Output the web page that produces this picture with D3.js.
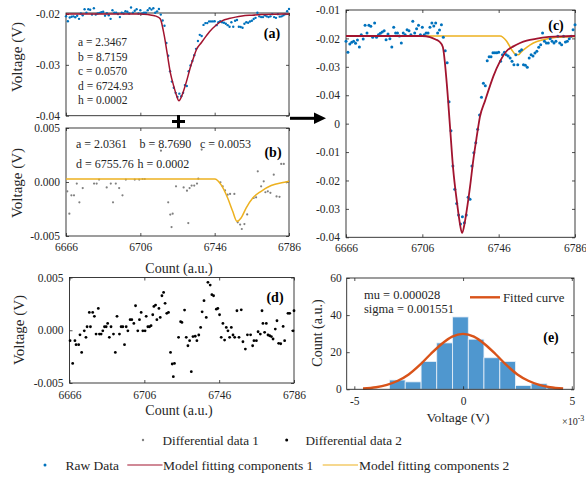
<!DOCTYPE html>
<html>
<head>
<meta charset="utf-8">
<script src="https://cdn.jsdelivr.net/npm/d3@7"></script>
<style>
  body { margin: 0; background: #fff; }
  svg { display: block; }
  text { font-family: "Liberation Serif", "Times New Roman", serif; fill: #262626; }
  .tick text { font-size: 11.5px; }
  .tick line { stroke: #262626; stroke-width: 0.8; }
  .lbl { font-weight: bold; font-size: 14px; fill: #000; }
</style>
</head>
<body>
<svg id="fig" width="586" height="487"></svg>
<script>
// ---- data ----
const countStart = 6666;   // raw data: one sample per count, 6666..6786
const rawV = [
  -0.02046, -0.02141, -0.02069, -0.02055, -0.02046, -0.02063, -0.02035, -0.02095, -0.01989, -0.02026,
  -0.01907, -0.01974, -0.01907, -0.01916, -0.02011, -0.01887, -0.02011, -0.01989, -0.01977, -0.01965,
  -0.01954, -0.02032, -0.01983, -0.02023, -0.02095, -0.01925, -0.01974, -0.01974, -0.02000, -0.02061,
  -0.01974, -0.01989, -0.01945, -0.01954, -0.01989, -0.01873, -0.01974, -0.01937, -0.01907, -0.01989,
  -0.01925, -0.01989, -0.01974, -0.01974, -0.01925, -0.01887, -0.01913, -0.01887, -0.01974, -0.01948,
  -0.01902, -0.02011, -0.02127, -0.02231, -0.02569, -0.02821, -0.03127, -0.03329, -0.03451, -0.03551,
  -0.03629, -0.03566, -0.03618, -0.03551, -0.03398, -0.03415, -0.03127, -0.03011, -0.02925, -0.02809,
  -0.02685, -0.02531, -0.02410, -0.02431, -0.02214, -0.02179, -0.02179, -0.02145, -0.02145, -0.02145,
  -0.02141, -0.02219, -0.02162, -0.02141, -0.02162, -0.02173, -0.02191, -0.02219, -0.02249, -0.02162,
  -0.02249, -0.02133, -0.02119, -0.02249, -0.02254, -0.02271, -0.02191, -0.02162, -0.02173, -0.02147,
  -0.02133, -0.02098, -0.02075, -0.01974, -0.02046, -0.02061, -0.02061, -0.02023, -0.02046, -0.02061,
  -0.02046, -0.02003, -0.02061, -0.02075, -0.02003, -0.02052, -0.02046, -0.02023, -0.02003, -0.01945,
  -0.01902
];

// model fitting component 1 (red), read as [count, V]
const fit1 = [
  [6666, -0.0200], [6706, -0.0200], [6710, -0.02009], [6713, -0.0203], [6715, -0.0205],
  [6716.7, -0.02093], [6718.8, -0.0241], [6720.5, -0.02786], [6722.2, -0.03161], [6724, -0.03421],
  [6725.4, -0.03595], [6726.8, -0.03707], [6728.2, -0.0362], [6729.3, -0.03508], [6731, -0.03306],
  [6732.7, -0.03075], [6734.5, -0.02873], [6736.2, -0.02699], [6738.9, -0.0256], [6741.5, -0.0243],
  [6743.2, -0.0235], [6746.7, -0.0222], [6750.2, -0.0213], [6753.7, -0.0209], [6757.2, -0.02061],
  [6760.7, -0.0204], [6766, -0.02023], [6771.2, -0.0201], [6778.2, -0.02003], [6786, -0.0200]
];

// model fitting component 2 in panel (b), [count, V]
const fit2 = [
  [6666, 0.00028], [6746, 0.00028], [6749.4, -0.00024], [6753, -0.00148], [6755.7, -0.00271],
  [6758, -0.00364], [6760.2, -0.00333], [6762.9, -0.00241], [6766.5, -0.00148], [6771, -0.00086],
  [6776.4, -0.00033], [6783.6, -0.00003], [6786, 0.00006]
];

// model fitting component 2 as drawn in panel (c), [count, V]
const fit2c = [
  [6666, -0.0200], [6746.7, -0.0200], [6750.2, -0.02046], [6752.8, -0.02119], [6754.6, -0.02156],
  [6756.3, -0.02162], [6758.1, -0.02133], [6760.7, -0.02098], [6764.2, -0.02061], [6769.4, -0.02032],
  [6776.4, -0.02011], [6786, -0.02003]
];

// differential data 1 (grey, panel b)
const diff1Count = [
  6666.7, 6667.8, 6668.9, 6670.3, 6671.8, 6673.2, 6675.0, 6681.1, 6682.5, 6683.8,
  6687.9, 6690.1, 6691.3, 6692.8, 6694.6, 6696.4, 6698.2, 6703.0, 6705.4, 6707.2,
  6708.4, 6717.1, 6721.0, 6722.1, 6723.4, 6722.8, 6725.2, 6729.3, 6731.1, 6731.8,
  6732.5, 6733.6, 6735.0, 6736.5, 6737.2, 6739.0, 6749.1, 6750.3, 6751.6, 6753.0,
  6754.3, 6756.6, 6758.4, 6759.7, 6760.6, 6762.0, 6763.5, 6767.0, 6768.3, 6769.2,
  6771.0, 6772.4, 6773.3, 6774.6, 6776.0, 6777.8, 6779.3, 6780.9, 6781.8, 6783.2,
  6784.7, 6785.8
];
const diff1V = [
  -0.00086, -0.00293, -0.00123, -0.00123, -0.00015, -0.00188, -0.00056, -0.00015, -0.00015, 0.00022,
  -0.00050, -0.00015, -0.00188, -0.00015, -0.00056, -0.00123, 0.00022, 0.00022, 0.00022, 0.00028,
  0.00028, 0.00290, -0.00188, -0.00302, -0.00293, -0.00417, -0.00040, -0.00050, -0.00080, -0.00380,
  -0.00056, -0.00033, -0.00033, -0.00015, 0.00031, 0.00300, -0.00003, -0.00040, -0.00077, -0.00117,
  -0.00110, -0.00110, -0.00373, -0.00394, -0.00435, -0.00390, -0.00300, -0.00148, -0.00142, 0.00099,
  -0.00040, 0.00006, -0.00095, -0.00086, -0.00100, 0.00068, -0.00134, -0.00137, 0.00167, 0.00167,
  -0.00003, 0.00003
];

// differential data 2 (black, panel d)
const diff2Count = [
  6666.3, 6667.7, 6668.9, 6669.5, 6670.9, 6671.6, 6672.5, 6673.9, 6674.8, 6675.4,
  6677.2, 6676.6, 6678.4, 6679.3, 6680.2, 6681.4, 6682.0, 6682.9, 6683.8, 6684.7,
  6685.6, 6686.4, 6687.3, 6688.2, 6689.5, 6690.5, 6691.4, 6692.7, 6693.6, 6694.5,
  6695.4, 6696.3, 6697.2, 6698.4, 6699.3, 6700.4, 6701.3, 6702.5, 6703.4, 6704.3,
  6705.2, 6706.4, 6707.0, 6707.9, 6708.8, 6709.6, 6710.5, 6711.1, 6712.0, 6712.7,
  6713.8, 6714.5, 6715.4, 6716.3, 6717.1, 6718.0, 6718.9, 6720.0, 6720.9, 6722.1,
  6721.5, 6724.3, 6725.4, 6726.1, 6727.5, 6728.4, 6729.3, 6730.2, 6731.1, 6732.0,
  6733.2, 6734.1, 6735.1, 6736.1, 6736.9, 6737.9, 6739.1, 6740.0, 6741.2, 6742.1,
  6743.0, 6744.5, 6745.3, 6746.2, 6747.1, 6748.0, 6748.9, 6749.8, 6750.7, 6751.6,
  6752.5, 6753.4, 6754.3, 6755.5, 6756.6, 6757.8, 6758.7, 6760.0, 6761.1, 6762.8,
  6763.9, 6764.6, 6765.9, 6766.8, 6768.0, 6768.9, 6769.4, 6770.3, 6771.2, 6772.1,
  6773.0, 6773.9, 6774.8, 6776.0, 6776.9, 6777.8, 6778.9, 6780.2, 6781.0, 6782.8,
  6783.7, 6785.5, 6786.0
];
const diff2V = [
  -0.00099, -0.00314, -0.00099, -0.00137, -0.00137, -0.00043, -0.00210, -0.00005, -0.00067, 0.00033,
  0.00033, 0.00169, 0.00169, 0.00132, -0.00036, 0.00207, -0.00036, -0.00036, -0.00005, 0.00033,
  0.00033, 0.00065, -0.00067, 0.00033, -0.00036, -0.00210, 0.00132, -0.00036, 0.00033, 0.00033,
  -0.00137, 0.00033, -0.00005, 0.00100, 0.00100, 0.00065, 0.00232, -0.00005, 0.00100, 0.00169,
  -0.00005, -0.00005, 0.00132, 0.00033, 0.00033, 0.00043, 0.00147, 0.00226, 0.00239, 0.00100,
  0.00207, 0.00122, 0.00327, 0.00359, 0.00255, 0.00160, 0.00169, -0.00210, -0.00320, -0.00314,
  -0.00440, -0.00067, 0.00081, 0.00074, 0.00191, -0.00067, -0.00147, -0.00099, -0.00393, -0.00060,
  -0.00057, -0.00099, -0.00045, 0.00027, 0.00175, 0.00280, 0.00122, 0.00454, 0.00428, 0.00337,
  0.00327, 0.00200, 0.00207, 0.00147, -0.00067, 0.00065, -0.00093, 0.00027, -0.00005, -0.00067,
  0.00027, -0.00045, -0.00067, 0.00185, -0.00067, 0.00194, -0.00109, -0.00178, -0.00043, -0.00043,
  -0.00147, -0.00099, -0.00099, -0.00014, -0.00036, 0.00185, 0.00065, -0.00020, 0.00065, -0.00045,
  -0.00052, -0.00060, -0.00083, 0.00011, 0.00090, -0.00124, -0.00128, 0.00036, -0.00099, 0.00160,
  0.00160, -0.00005, 0.00185
];

// histogram of differential data (panel e)
const binEdges = [-0.00338, -0.00266, -0.00193, -0.00121, -0.00048, 0.00024, 0.00096, 0.00169, 0.00241, 0.00313, 0.00386, 0.00458];
const binCounts = [5, 4, 15, 25, 39, 27, 17, 15, 2, 3, 1];
const gaussFit = [
  [-0.0046, 0.4], [-0.0040, 1.1], [-0.0035, 2.4], [-0.0030, 4.6], [-0.0025, 8.0], [-0.0020, 13.0],
  [-0.0015, 18.9], [-0.0010, 24.3], [-0.0005, 28.4], [0, 29.9], [0.0005, 28.4], [0.0010, 24.3],
  [0.0015, 18.9], [0.0020, 13.0], [0.0025, 8.0], [0.0030, 4.6], [0.0035, 2.4], [0.0040, 1.1], [0.0046, 0.4]
];

const countTicks = [6666, 6706, 6746, 6786];
// panel (c) y tick labels as printed, top to bottom
const cTickLabels = ["-0.01", "-0.02", "-0.03", "-0.04", "0", "-0.01", "-0.02", "-0.03", "-0.04"];
const paramsA = ["a = 2.3467", "b = 8.7159", "c = 0.0570", "d = 6724.93", "h = 0.0002"];

const blue = "#0072BD", red = "#A2142F", yellow = "#EDB120", orange = "#D95319";
const serif = '"Liberation Serif", "Times New Roman", serif';

// ---- drawing ----
const svg = d3.select("#fig");
const none = () => "";

function frame(x, y, o) {
  const [xl, xr] = x.range(), [yb, yt] = y.range();
  const ax = (gen, tr) => svg.append("g").attr("transform", tr).call(gen)
    .attr("font-family", serif).attr("font-size", 11.5)
    .call(s => s.select(".domain").remove());
  ax(d3.axisBottom(x).tickValues(o.xt).tickSize(-3).tickPadding(o.xpad || 7).tickFormat(o.xf || none), `translate(0,${yb})`);
  ax(d3.axisTop(x).tickValues(o.xt).tickSize(-3).tickFormat(none), `translate(0,${yt})`);
  ax(d3.axisLeft(y).tickValues(o.yt).tickSize(-3).tickPadding(o.ypad || 6).tickFormat(o.yf || none), `translate(${xl},0)`);
  ax(d3.axisRight(y).tickValues(o.yt).tickSize(-3).tickFormat(none), `translate(${xr},0)`);
  svg.append("rect").attr("x", xl).attr("y", yt).attr("width", xr - xl).attr("height", yb - yt)
    .attr("fill", "none").attr("stroke", "#262626").attr("stroke-width", 0.9);
}

function text(x, y, s, size, opts = {}) {
  const t = svg.append("text").attr("x", x).attr("y", y).attr("font-size", size)
    .attr("text-anchor", opts.anchor || "start").text(s);
  if (opts.rot) t.attr("transform", `rotate(-90,${x},${y})`);
  if (opts.cls) t.attr("class", opts.cls);
  return t;
}

function dots(x, y, pts, r, color) {
  svg.append("g").selectAll("circle").data(pts).join("circle")
    .attr("cx", d => x(d[0])).attr("cy", d => y(d[1])).attr("r", r).attr("fill", color);
}

function curve(x, y, pts, color, w) {
  svg.append("path").datum(pts)
    .attr("d", d3.line().x(d => x(d[0])).y(d => y(d[1])).curve(d3.curveMonotoneX))
    .attr("fill", "none").attr("stroke", color).attr("stroke-width", w);
}

const rawPts = rawV.map((v, i) => [countStart + i, v]);

// panel (a)
const xA = d3.scaleLinear().domain([6666, 6786]).range([66, 289]);
const yA = d3.scaleLinear().domain([-0.04, -0.0198]).range([115.7, 13]);
frame(xA, yA, { xt: countTicks, yt: [-0.04, -0.03, -0.02], yf: d => d.toFixed(2) });
dots(xA, yA, rawPts, 1.2, blue);
curve(xA, yA, fit1, red, 1.5);
paramsA.forEach((s, i) => text(78, 46 + i * 14.6, s, 11.5));
text(272, 38, "(a)", 14, { anchor: "middle", cls: "lbl" });
text(22, 57, "Voltage (V)", 15, { anchor: "middle", rot: true });

// panel (b)
const xB = d3.scaleLinear().domain([6666, 6786]).range([66, 289]);
const yB = d3.scaleLinear().domain([-0.005, 0.005]).range([236, 128]);
frame(xB, yB, { xt: countTicks, xf: d3.format("d"), yt: [-0.005, 0, 0.005], yf: d => d.toFixed(3) });
dots(xB, yB, diff1Count.map((c, i) => [c, diff1V[i]]), 1.1, "#808080");
curve(xB, yB, fit2, yellow, 1.5);
text(76, 147.5, "a = 2.0361", 12);
text(139.5, 147.5, "b = 8.7690", 12);
text(200, 147.5, "c = 0.0053", 12);
text(76, 167.5, "d = 6755.76", 12);
text(137.5, 167.5, "h = 0.0002", 12);
text(273, 156.5, "(b)", 14, { anchor: "middle", cls: "lbl" });
text(22, 183, "Voltage (V)", 15, { anchor: "middle", rot: true });
text(179, 272.5, "Count (a.u.)", 14, { anchor: "middle" });

// plus sign and arrow
svg.append("path").attr("d", "M172,121.5H185M178.5,115V128").attr("stroke", "#000").attr("stroke-width", 3);
svg.append("path").attr("d", "M290,118.3H316").attr("stroke", "#000").attr("stroke-width", 3);
svg.append("path").attr("d", "M314,112.5L326,118.3L314,124.1Z").attr("fill", "#000");

// panel (c): the printed y labels do not follow the data scale, they are placed evenly
const xC = d3.scaleLinear().domain([6666, 6786]).range([346, 575]);
const yC = d3.scaleLinear().domain([-0.037447, -0.017747]).range([237.3, 10]);
const cTicks = cTickLabels.map((s, i) => d3.interpolateNumber(-0.017747, -0.037447)(i / (cTickLabels.length - 1)));
frame(xC, yC, { xt: countTicks, xf: d3.format("d"), yt: cTicks, yf: (d, i) => cTickLabels[i] });
curve(xC, yC, fit2c, yellow, 1.6);
dots(xC, yC, rawPts, 1.5, blue);
curve(xC, yC, fit1, red, 1.8);
text(556, 30, "(c)", 14, { anchor: "middle", cls: "lbl" });

// panel (d)
const xD = d3.scaleLinear().domain([6666, 6786]).range([69.5, 294]);
const yD = d3.scaleLinear().domain([-0.005, 0.005]).range([383, 277.5]);
frame(xD, yD, { xt: countTicks, xf: d3.format("d"), xpad: 8, yt: [-0.005, 0, 0.005], yf: d => d.toFixed(3) });
dots(xD, yD, diff2Count.map((c, i) => [c, diff2V[i]]), 1.4, "#000");
text(275, 301.5, "(d)", 14, { anchor: "middle", cls: "lbl" });
text(24, 330, "Voltage (V)", 15, { anchor: "middle", rot: true });
text(179, 414.5, "Count (a.u.)", 14, { anchor: "middle" });

// panel (e)
const xE = d3.scaleLinear().domain([-0.00535, 0.0051]).range([346.7, 574]);
const yE = d3.scaleLinear().domain([0, 60]).range([389.3, 278]);
svg.append("g").selectAll("rect").data(binCounts).join("rect")
  .attr("x", (d, i) => xE(binEdges[i])).attr("width", (d, i) => xE(binEdges[i + 1]) - xE(binEdges[i]))
  .attr("y", d => yE(d)).attr("height", d => yE(0) - yE(d))
  .attr("fill", "#4f97cf").attr("stroke", "#e8f0f8").attr("stroke-width", 0.8);
curve(xE, yE, gaussFit, orange, 2.4);
frame(xE, yE, { xt: [-0.005, 0, 0.005], xf: d => String(Math.round(d * 1000)), xpad: 8, yt: [0, 20, 40, 60], yf: d3.format("d"), ypad: 5 });
text(364, 298.5, "mu = 0.000028", 12.5);
text(364, 313, "sigma = 0.001551", 12.5);
svg.append("line").attr("x1", 470).attr("x2", 500).attr("y1", 297.3).attr("y2", 297.3)
  .attr("stroke", orange).attr("stroke-width", 2.4);
text(503, 301.5, "Fitted curve", 12.8);
text(551, 341.5, "(e)", 14, { anchor: "middle", cls: "lbl" });
text(458, 422, "Voltage (V)", 13.5, { anchor: "middle" });
text(322, 333, "Count (a.u.)", 14, { anchor: "middle", rot: true });
const sci = text(562, 425, "×10", 10);
sci.append("tspan").attr("dy", -4).attr("font-size", 8).text("-3");

// legend
svg.append("circle").attr("cx", 143).attr("cy", 440).attr("r", 1.2).attr("fill", "#808080");
text(162.5, 444.5, "Differential data 1", 13.2);
svg.append("circle").attr("cx", 286.7).attr("cy", 440).attr("r", 1.5).attr("fill", "#000");
text(305.5, 444.5, "Differential data 2", 13.2);
svg.append("circle").attr("cx", 45).attr("cy", 465).attr("r", 1.5).attr("fill", blue);
text(65.5, 469.5, "Raw Data", 13.5);
svg.append("line").attr("x1", 127.3).attr("x2", 162.5).attr("y1", 465).attr("y2", 465).attr("stroke", red).attr("stroke-width", 1.2);
text(163, 469.5, "Model fitting components 1", 13.5);
svg.append("line").attr("x1", 322.7).attr("x2", 358).attr("y1", 465).attr("y2", 465).attr("stroke", yellow).attr("stroke-width", 1.2);
text(359, 469.5, "Model fitting components 2", 13.5);
</script>
</body>
</html>
